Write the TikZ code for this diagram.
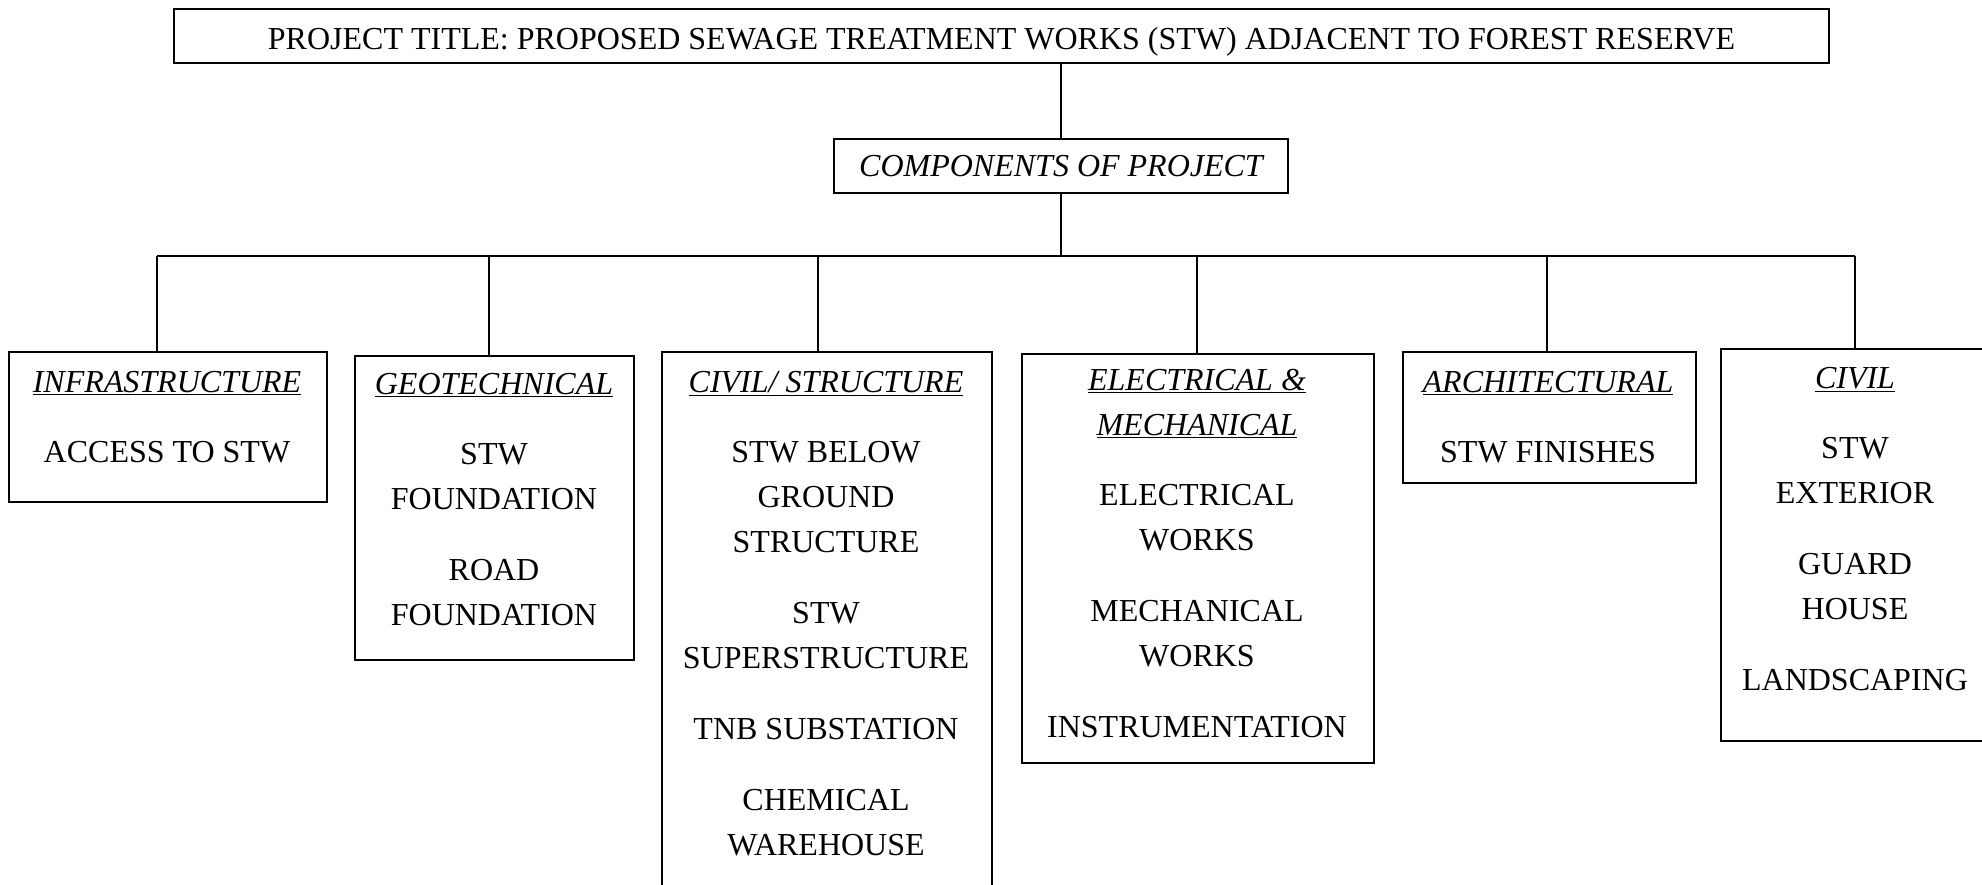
\documentclass[tikz,border=0pt]{standalone}
\usepackage{fontspec}
\setmainfont{Liberation Serif}
\newcommand{\hdr}[1]{\underline{\textit{#1}}}
\begin{document}
\begin{tikzpicture}[x=1pt,y=-1pt,
  frame/.style={draw, line width=2pt, inner sep=0pt, anchor=north west},
  txt/.style={inner sep=0pt, align=center, anchor=north,
    font=\fontsize{32}{45}\selectfont},
  link/.style={line width=1.2pt}]
\useasboundingbox (0,0) rectangle (1982,885);
\clip (0,0) rectangle (1982,885);

% top levels
\node[frame, minimum width=1655pt, minimum height=54pt,
  text height=27pt, text depth=0pt,
  font=\fontsize{32}{45}\selectfont] (title) at (173,8)
  {PROJECT TITLE: PROPOSED SEWAGE TREATMENT WORKS (STW) ADJACENT TO FOREST RESERVE};
\node[frame, minimum width=454pt, minimum height=54pt,
  font=\fontsize{32}{45}\selectfont\itshape] (comp) at (833,138)
  {COMPONENTS OF PROJECT};

% component frames
\node[frame, minimum width=318pt, minimum height=150pt] (infra) at (8,351) {};
\node[frame, minimum width=279pt, minimum height=304pt] (geo) at (354,355) {};
\node[frame, minimum width=330pt, minimum height=560pt] (civs) at (661,351) {};
\node[frame, minimum width=352pt, minimum height=409pt] (elec) at (1021,353) {};
\node[frame, minimum width=293pt, minimum height=131pt] (arch) at (1402,351) {};
\node[frame, minimum width=270pt, minimum height=392pt] (civ) at (1720,348) {};

% component texts
\node[txt] (infraT) at (167,371.5) {\hdr{INFRASTRUCTURE}\\[25pt] ACCESS TO STW};
\node[txt] (geoT) at (494,373.5) {\hdr{GEOTECHNICAL}\\[25pt] STW\\ FOUNDATION\\[26pt] ROAD\\ FOUNDATION};
\node[txt] (civsT) at (826,371.5) {\hdr{CIVIL/ STRUCTURE}\\[25pt] STW BELOW\\ GROUND\\ STRUCTURE\\[26pt]
  STW\\ SUPERSTRUCTURE\\[26pt] TNB SUBSTATION\\[26pt] CHEMICAL\\ WAREHOUSE};
\node[txt] (elecT) at (1197,369.5) {\hdr{ELECTRICAL \&}\\ \hdr{MECHANICAL}\\[25pt] ELECTRICAL\\ WORKS\\[26pt]
  MECHANICAL\\ WORKS\\[26pt] INSTRUMENTATION};
\node[txt] (archT) at (1548,371.5) {\hdr{ARCHITECTURAL}\\[25pt] STW FINISHES};
\node[txt] (civT) at (1855,367.5) {\hdr{CIVIL}\\[25pt] STW\\ EXTERIOR\\[26pt] GUARD\\ HOUSE\\[26pt] LANDSCAPING};

% connectors
\coordinate (b1) at (157,256);
\coordinate (b2) at (489,256);
\coordinate (b3) at (818,256);
\coordinate (b4) at (1197,256);
\coordinate (b5) at (1547,256);
\coordinate (b6) at (1855,256);
\draw[link] (comp.north) -- (comp.north |- title.south);
\draw[link] (comp.south) -- (comp.south |- b1);
\draw[link] (b1) -- (b6);
\draw[link] (b1) -- (b1 |- infra.north);
\draw[link] (b2) -- (b2 |- geo.north);
\draw[link] (b3) -- (b3 |- civs.north);
\draw[link] (b4) -- (b4 |- elec.north);
\draw[link] (b5) -- (b5 |- arch.north);
\draw[link] (b6) -- (b6 |- civ.north);
\end{tikzpicture}
\end{document}
